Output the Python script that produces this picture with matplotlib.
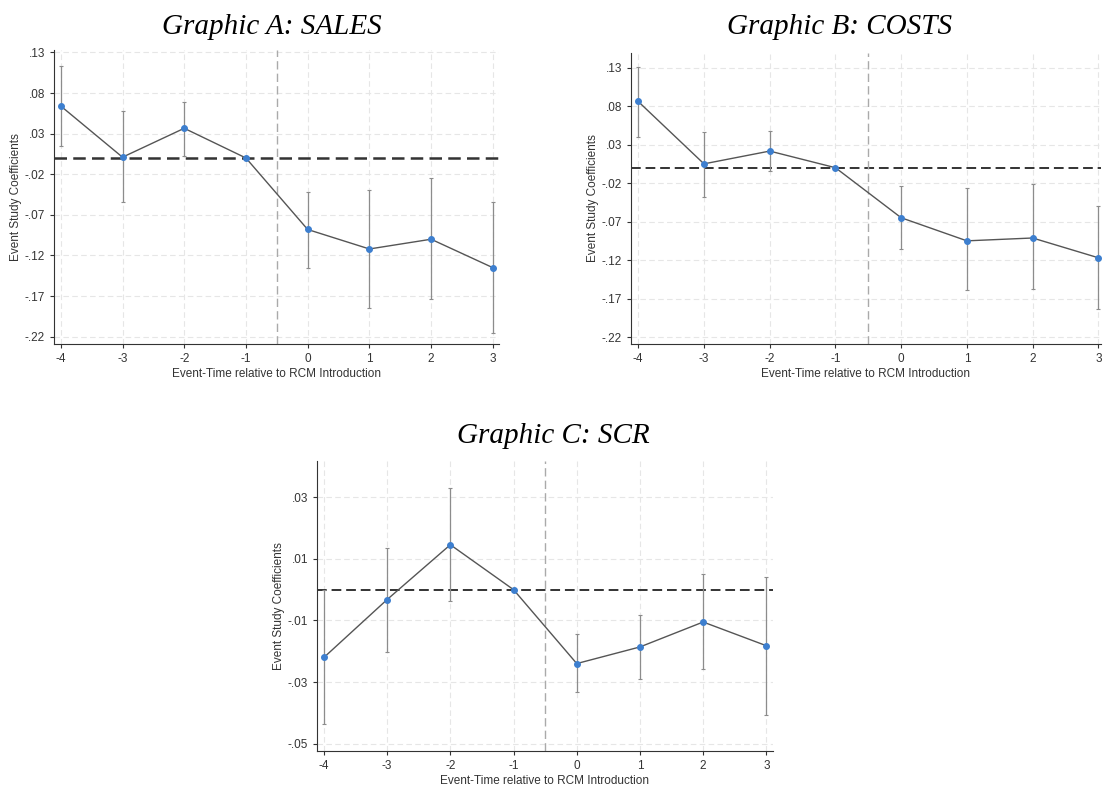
import numpy as np
import matplotlib.pyplot as plt
from matplotlib.ticker import FuncFormatter

plt.rcParams['font.family'] = ['Liberation Sans', 'DejaVu Sans']
plt.rcParams['axes.unicode_minus'] = False

# event time
t = [-4, -3, -2, -1, 0, 1, 2, 3]

# Graphic A: SALES
a_coef = [0.064, 0.001, 0.0366, 0.0, -0.088, -0.112, -0.100, -0.135]
a_lo = [0.015, -0.054, 0.003, 0.0, -0.135, -0.185, -0.174, -0.216]
a_hi = [0.113, 0.058, 0.0685, 0.0, -0.042, -0.039, -0.025, -0.054]

# Graphic B: COSTS
b_coef = [0.086, 0.005, 0.0216, 0.0, -0.065, -0.095, -0.0913, -0.117]
b_lo = [0.040, -0.038, -0.004, 0.0, -0.105, -0.159, -0.158, -0.184]
b_hi = [0.131, 0.047, 0.048, 0.0, -0.0235, -0.026, -0.0213, -0.0495]

# Graphic C: SCR
c_coef = [-0.022, -0.0032, 0.0146, 0.0, -0.024, -0.0186, -0.0105, -0.0182]
c_lo = [-0.0437, -0.0203, -0.0037, 0.0, -0.0333, -0.0291, -0.0259, -0.0408]
c_hi = [0.0, 0.0134, 0.0329, 0.0, -0.0145, -0.0083, 0.005, 0.0042]

a_ticks = [0.13, 0.08, 0.03, -0.02, -0.07, -0.12, -0.17, -0.22]
c_ticks = [0.03, 0.01, -0.01, -0.03, -0.05]

W, H = 1103, 794


def fmt(v, pos):
    s = f'{v:.2f}'
    return s.replace('0.', '.')


def panel(rect, coef, lo, hi, yticks, ylim, xlim, title, title_xy, hl_w=1.4):
    l, tp, r, b = rect
    ax = fig.add_axes([l / W, 1 - b / H, (r - l) / W, (b - tp) / H])
    coef = np.array(coef)
    err = [coef - np.array(lo), np.array(hi) - coef]
    ax.errorbar(t, coef, yerr=err, fmt='none', ecolor='#8c8c8c', elinewidth=0.9,
                capsize=1.5, capthick=0.8, zorder=2)
    ax.plot(t, coef, '-', color='#555555', lw=1.0, zorder=3)
    ax.plot(t, coef, 'o', color='#3d7fcf', ms=4, zorder=4)
    ax.axhline(0, color='#333333', lw=hl_w, ls=(0, (5, 2.5)), zorder=1)
    ax.axvline(-0.5, color='#aaaaaa', lw=1.0, ls=(0, (6, 3)), zorder=1)
    ax.set_xticks(t)
    ax.set_yticks(yticks)
    ax.yaxis.set_major_formatter(FuncFormatter(fmt))
    ax.set_xlim(*xlim)
    ax.set_ylim(*ylim)
    ax.grid(True, color='#e6e6e6', ls=(0, (5, 3)), lw=0.8)
    ax.set_axisbelow(True)
    for s in ['top', 'right']:
        ax.spines[s].set_visible(False)
    ax.spines['left'].set_color('#333333')
    ax.spines['bottom'].set_color('#333333')
    ax.tick_params(labelsize=8.5, length=3, color='#333333', labelcolor='#333333')
    ax.set_xlabel('Event-Time relative to RCM Introduction', fontsize=8.5, color='#333333', labelpad=2)
    ax.set_ylabel('Event Study Coefficients', fontsize=8.5, color='#333333', labelpad=2)
    fig.text(title_xy[0] / W, 1 - title_xy[1] / H, title, family='Liberation Serif',
             style='italic', fontsize=21, ha='center', va='center')
    return ax


fig = plt.figure(figsize=(W / 100, H / 100), dpi=100)

panel((54, 50, 499, 344), a_coef, a_lo, a_hi, a_ticks, (-0.229, 0.133), (-4.11, 3.10),
      'Graphic A: SALES', (272, 27), hl_w=1.8)
panel((631, 53, 1101, 344), b_coef, b_lo, b_hi, a_ticks, (-0.229, 0.149), (-4.11, 3.04),
      'Graphic B: COSTS', (840, 27))
panel((317, 461, 773, 751), c_coef, c_lo, c_hi, c_ticks, (-0.0524, 0.0418), (-4.11, 3.105),
      'Graphic C: SCR', (553, 436))

fig.savefig('out.png', dpi=100)
